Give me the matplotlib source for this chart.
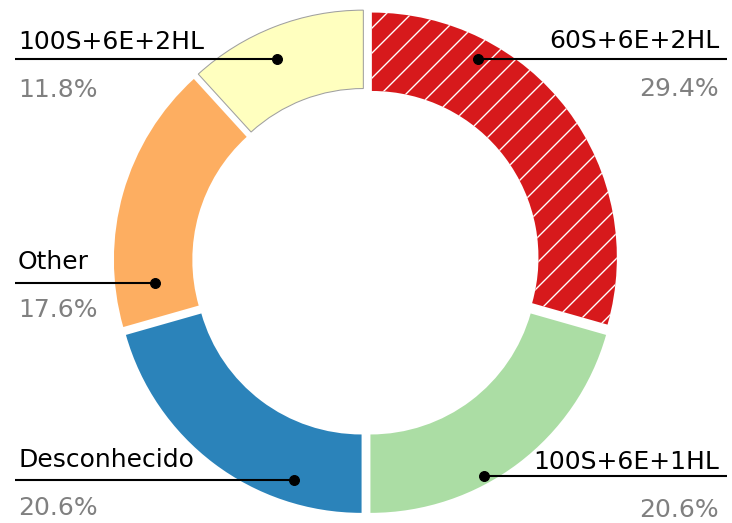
import numpy as np
import matplotlib
matplotlib.use("Agg")
import matplotlib.pyplot as plt

# data
labels = ["60S+6E+2HL", "100S+6E+1HL", "Desconhecido", "Other", "100S+6E+2HL"]
counts = [10, 7, 7, 6, 4]
colors = ["#d7191c", "#abdda4", "#2b83ba", "#fdae61", "#ffffbf"]

# layout: side of label, anchor position inside wedge (fraction of arc, radius),
# and baseline of the label name in data units
sides = ["right", "right", "left", "left", "left"]
anchor_frac = [0.735, 0.386, 0.761, 0.851, 0.561]
anchor_r = [0.919, 0.968, 0.909, 0.838, 0.875]
name_y = [0.872, -0.846, -0.838, -0.030, 0.868]

plt.rcParams["hatch.color"] = "white"
plt.rcParams["hatch.linewidth"] = 1.3

W, H, DPI = 732, 523, 75
SCALE = 245.0  # pixels per data unit
fig = plt.figure(figsize=(W / DPI, H / DPI), dpi=DPI)
ax = fig.add_axes([0, 0, 1, 1])

wedges, _ = ax.pie(
    counts,
    colors=colors,
    startangle=90,
    counterclock=False,
    explode=[0.03] * len(counts),
    radius=1.0,
    wedgeprops=dict(width=0.32, linewidth=0),
)
wedges[0].set_hatch("/")
wedges[4].set_edgecolor("#a0a0a0")
wedges[4].set_linewidth(1.0)

total = sum(counts)
for w, lab, n, side, f, r, ty in zip(
    wedges, labels, counts, sides, anchor_frac, anchor_r, name_y
):
    ang = np.deg2rad(w.theta1 + f * (w.theta2 - w.theta1))
    cx, cy = w.center
    px, py = cx + r * np.cos(ang), cy + r * np.sin(ang)
    if side == "left":
        x_end, tx, ha = -1.433, -1.420, "left"
    else:
        x_end, tx, ha = 1.475, 1.441, "right"
    ax.plot([px, x_end], [py, py], color="black", lw=2, solid_capstyle="butt")
    ax.plot(px, py, "o", color="black", ms=9.5)
    ax.text(tx, ty, lab, ha=ha, va="baseline", fontsize=24, color="black")
    ax.text(tx, ty - 0.196, f"{100 * n / total:.1f}%", ha=ha, va="baseline",
            fontsize=24, color="#808080")

ax.set_xlim(-366 / SCALE, (W - 366) / SCALE)
ax.set_ylim(-(H - 262) / SCALE, 262 / SCALE)
ax.axis("off")

fig.savefig("out.png", dpi=DPI)
